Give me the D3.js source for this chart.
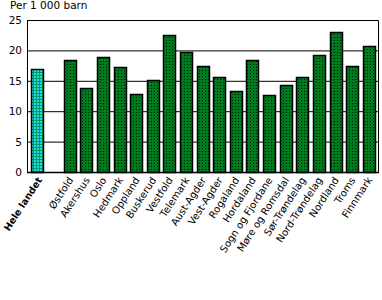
<!DOCTYPE html>
<html>
<head>
<meta charset="utf-8">
<script src="https://cdn.jsdelivr.net/npm/d3@7"></script>
<style>
	body { margin: 0; background: #fff; }
	text { font-family: "DejaVu Sans", sans-serif; }
</style>
</head>
<body>
<svg id="chart" width="382" height="300"></svg>
<script>
//Data----------------------------------------------------------------------
var categories = ['Hele landet', '', 'Østfold', 'Akershus', 'Oslo', 'Hedmark',
	'Oppland', 'Buskerud', 'Vestfold', 'Telemark', 'Aust-Agder', 'Vest-Agder',
	'Rogaland', 'Hordaland', 'Sogn og Fjordane', 'Møre og Romsdal',
	'Sør-Trøndelag', 'Nord-Trøndelag', 'Nordland', 'Troms', 'Finnmark'];
var values = [16.9, null, 18.5, 13.8, 18.9, 17.2, 12.9, 15.2, 22.5, 19.7,
	17.5, 15.7, 13.4, 18.4, 12.6, 14.3, 15.6, 19.2, 23.0, 17.5, 20.7];
var yTicks = [0, 5, 10, 15, 20, 25];

var svg = d3.select('#chart');
//plot area (note: "top" is a reserved window global, so use a margin object)
var m = { left: 27, right: 378, top: 20, bottom: 172 };

//patterns for the bars
var defs = svg.append('defs');
var pg = defs.append('pattern').attr('id', 'pat-green')
	.attr('patternUnits', 'userSpaceOnUse').attr('width', 3).attr('height', 3);
pg.append('rect').attr('width', 3).attr('height', 3).attr('fill', '#007a1e');
pg.append('rect').attr('x', 1).attr('y', 1).attr('width', 1).attr('height', 1)
	.attr('fill', '#001a00');
var pc = defs.append('pattern').attr('id', 'pat-cyan')
	.attr('patternUnits', 'userSpaceOnUse').attr('width', 3).attr('height', 3);
pc.append('rect').attr('width', 3).attr('height', 3).attr('fill', '#009a60');
pc.append('rect').attr('x', 1).attr('y', 1).attr('width', 2).attr('height', 2)
	.attr('fill', '#22d8e8');

var x = d3.scaleBand().domain(d3.range(categories.length))
	.range([m.left, m.right]).paddingInner(0.3).paddingOuter(0.22);
var y = d3.scaleLinear().domain([0, 25]).range([m.bottom, m.top]);

//gridlines
svg.append('g').selectAll('line').data(yTicks.filter(function (d) { return d > 0; }))
	.enter().append('line')
	.attr('x1', m.left).attr('x2', m.right)
	.attr('y1', function (d) { return y(d) + 0.5; })
	.attr('y2', function (d) { return y(d) + 0.5; })
	.attr('stroke', '#000').attr('stroke-width', 1);

//frame
svg.append('path')
	.attr('d', 'M' + (m.left + 0.5) + ',' + (m.bottom + 0.5) + 'V' + (m.top + 0.5) +
		'H' + (m.right + 0.5) + 'V' + (m.bottom + 0.5))
	.attr('fill', 'none').attr('stroke', '#000').attr('stroke-width', 1);

//y axis labels
svg.append('g').selectAll('text').data(yTicks).enter().append('text')
	.attr('x', m.left - 5).attr('y', function (d) { return y(d) + 4; })
	.attr('text-anchor', 'end').attr('font-size', 10.5)
	.text(function (d) { return d; });

svg.append('text').attr('x', 10).attr('y', 9).attr('font-size', 10.5)
	.text('Per 1 000 barn');

//bars
var idx = d3.range(categories.length).filter(function (i) { return values[i] != null; });
svg.append('g').selectAll('rect').data(idx).enter().append('rect')
	.attr('x', function (i) { return Math.round(x(i)) + 0.5; })
	.attr('y', function (i) { return Math.round(y(values[i])) + 0.5; })
	.attr('width', Math.round(x.bandwidth()))
	.attr('height', function (i) { return m.bottom - Math.round(y(values[i])); })
	.attr('fill', function (i) { return i === 0 ? 'url(#pat-cyan)' : 'url(#pat-green)'; })
	.attr('stroke', '#000').attr('stroke-width', 1.5);

//baseline
svg.append('line').attr('x1', m.left).attr('x2', m.right + 1)
	.attr('y1', m.bottom + 0.5).attr('y2', m.bottom + 0.5)
	.attr('stroke', '#000').attr('stroke-width', 1.5);

//category labels (national total in bold)
svg.append('g').selectAll('text').data(idx).enter().append('text')
	.attr('transform', function (i) {
		var dx = i === 0 ? 6 : 4;
		return 'translate(' + (x(i) + x.bandwidth() / 2 + dx) + ',' + (m.bottom + 8) + ')rotate(-57)';
	})
	.attr('text-anchor', 'end')
	.attr('font-size', function (i) { return i === 0 ? 9.5 : 10; })
	.attr('font-weight', function (i) { return i === 0 ? 'bold' : 'normal'; })
	.text(function (i) { return categories[i]; });
</script>
</body>
</html>
